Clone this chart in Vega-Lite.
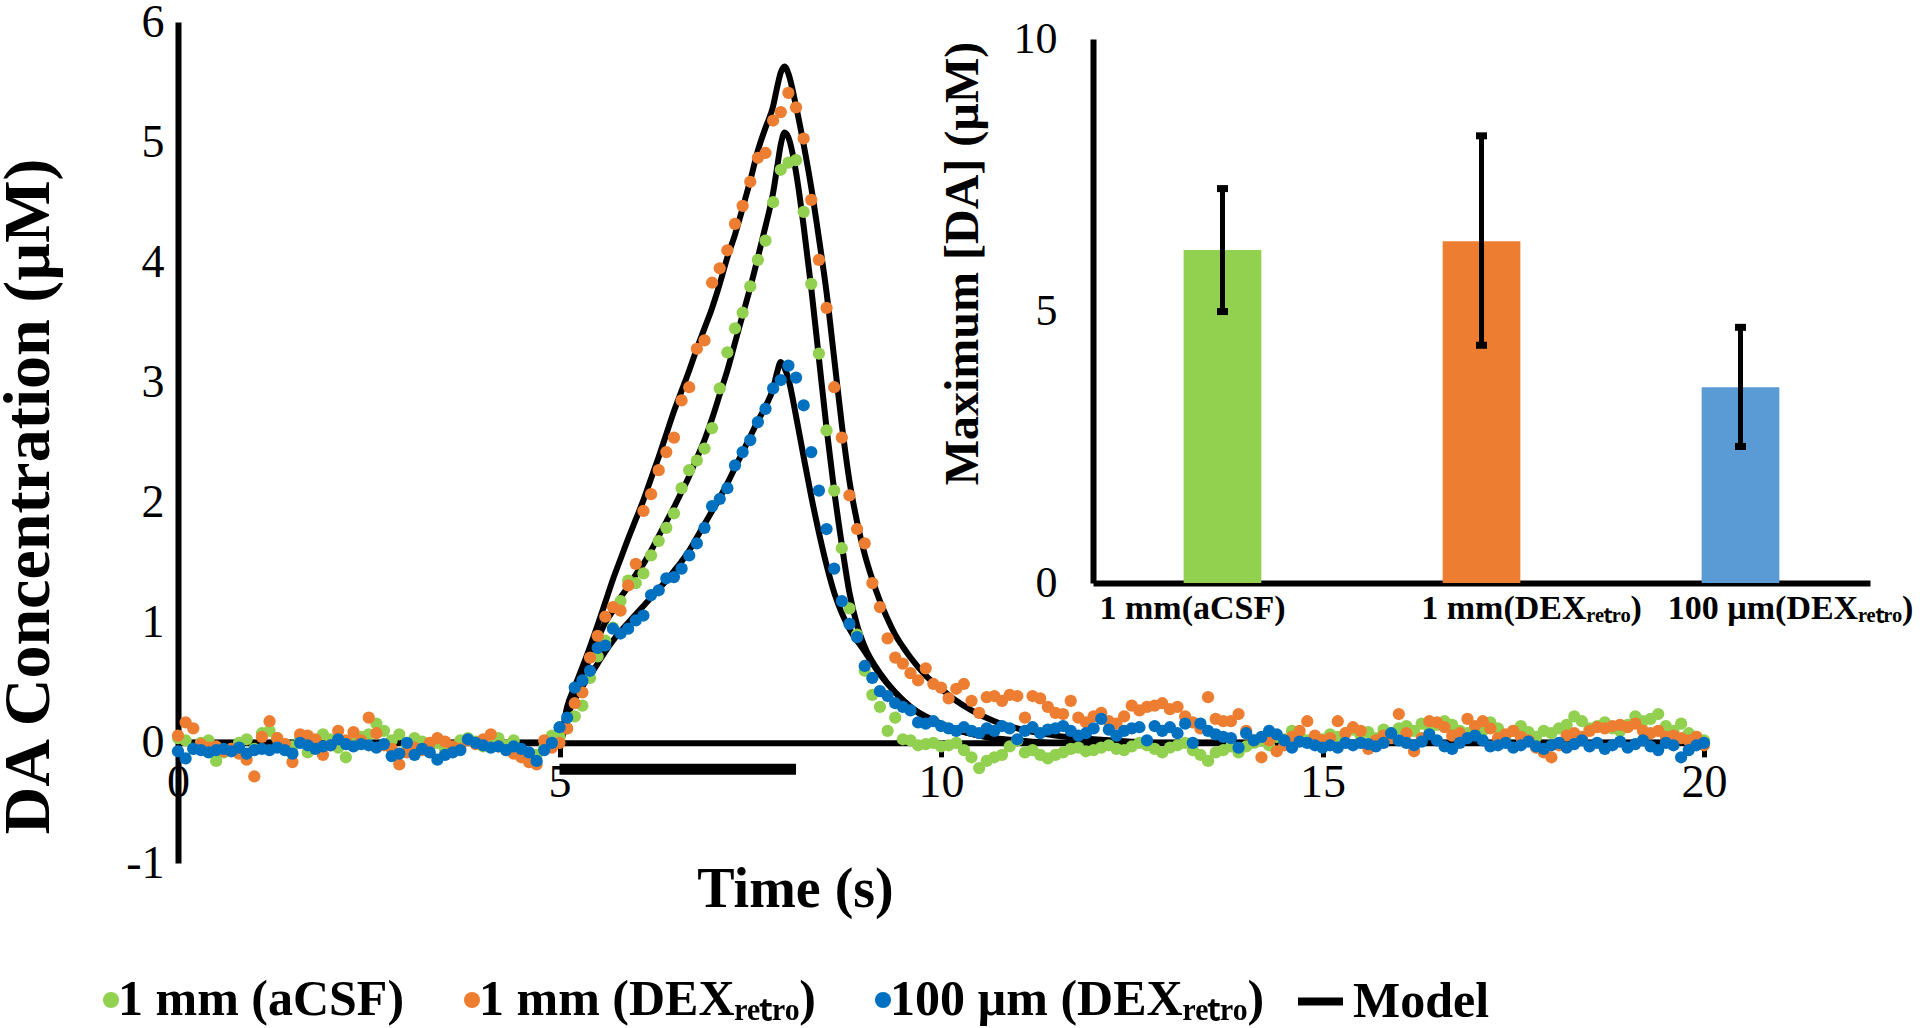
{
"$schema": "https://vega.github.io/schema/vega-lite/v6.json",
"width": 1526, "height": 841,
"autosize": {"type": "none"},
"padding": {"left": 178, "top": 22, "right": 216, "bottom": 165},
"background": "white",
"config": {
  "view": {"stroke": null},
  "axis": {"grid": false, "labelFont": "Liberation Serif", "titleFont": "Liberation Serif", "labelColor": "black", "titleColor": "black", "domainColor": "black", "tickColor": "black"},
  "legend": {"labelFont": "Liberation Serif", "labelColor": "black"}
},
"datasets": {
  "names": [
    {"key": "s1", "name": "1 mm (aCSF)"},
    {"key": "s2", "name": "1 mm (DEXᵣₑₜᵣₒ)"},
    {"key": "s3", "name": "100 µm (DEXᵣₑₜᵣₒ)"}
  ],
  "stim": [{"t0": 5, "t1": 8.1, "v": -0.22}],
  "bars": [
    {"cat": "1 mm(aCSF)", "v": 6.12, "lo": 4.99, "hi": 7.25},
    {"cat": "1 mm(DEXᵣₑₜᵣₒ)", "v": 6.28, "lo": 4.37, "hi": 8.22},
    {"cat": "100 µm(DEXᵣₑₜᵣₒ)", "v": 3.6, "lo": 2.51, "hi": 4.7}
  ],
  "model": [
    {"m":"o","t":0,"v":0},{"m":"o","t":5,"v":0},{"m":"o","t":5.1,"v":0.3},{"m":"o","t":5.2,"v":0.47},{"m":"o","t":5.3,"v":0.63},{"m":"o","t":5.4,"v":0.8},{"m":"o","t":5.5,"v":0.98},{"m":"o","t":5.6,"v":1.17},{"m":"o","t":5.7,"v":1.36},{"m":"o","t":5.8,"v":1.53},{"m":"o","t":5.9,"v":1.7},{"m":"o","t":6.0,"v":1.86},{"m":"o","t":6.1,"v":2.02},{"m":"o","t":6.2,"v":2.2},{"m":"o","t":6.3,"v":2.38},{"m":"o","t":6.4,"v":2.57},{"m":"o","t":6.5,"v":2.76},{"m":"o","t":6.6,"v":2.93},{"m":"o","t":6.7,"v":3.1},{"m":"o","t":6.8,"v":3.28},{"m":"o","t":6.9,"v":3.45},{"m":"o","t":7.0,"v":3.62},{"m":"o","t":7.1,"v":3.82},{"m":"o","t":7.2,"v":4.04},{"m":"o","t":7.3,"v":4.23},{"m":"o","t":7.4,"v":4.45},{"m":"o","t":7.5,"v":4.68},{"m":"o","t":7.6,"v":4.93},{"m":"o","t":7.7,"v":5.12},{"m":"o","t":7.8,"v":5.3},{"m":"o","t":7.85,"v":5.45},{"m":"o","t":7.9,"v":5.58},{"m":"o","t":7.95,"v":5.63},{"m":"o","t":8.0,"v":5.57},{"m":"o","t":8.1,"v":5.3},{"m":"o","t":8.2,"v":4.98},{"m":"o","t":8.3,"v":4.62},{"m":"o","t":8.4,"v":4.2},{"m":"o","t":8.5,"v":3.75},{"m":"o","t":8.6,"v":3.2},{"m":"o","t":8.7,"v":2.65},{"m":"o","t":8.8,"v":2.18},{"m":"o","t":8.9,"v":1.84},{"m":"o","t":9.0,"v":1.57},{"m":"o","t":9.1,"v":1.36},{"m":"o","t":9.2,"v":1.18},{"m":"o","t":9.3,"v":1.03},{"m":"o","t":9.4,"v":0.9},{"m":"o","t":9.5,"v":0.8},{"m":"o","t":9.6,"v":0.71},{"m":"o","t":9.8,"v":0.56},{"m":"o","t":10.0,"v":0.45},{"m":"o","t":10.2,"v":0.35},{"m":"o","t":10.4,"v":0.27},{"m":"o","t":10.7,"v":0.18},{"m":"o","t":11.0,"v":0.12},{"m":"o","t":11.5,"v":0.06},{"m":"o","t":12.0,"v":0.03},{"m":"o","t":12.5,"v":0.01},{"m":"o","t":13.0,"v":0},{"m":"o","t":20,"v":0},
    {"m":"g","t":0,"v":0},{"m":"g","t":5,"v":0},{"m":"g","t":5.1,"v":0.22},{"m":"g","t":5.2,"v":0.4},{"m":"g","t":5.3,"v":0.56},{"m":"g","t":5.4,"v":0.71},{"m":"g","t":5.5,"v":0.86},{"m":"g","t":5.6,"v":1.0},{"m":"g","t":5.7,"v":1.1},{"m":"g","t":5.8,"v":1.21},{"m":"g","t":5.9,"v":1.3},{"m":"g","t":6.0,"v":1.4},{"m":"g","t":6.1,"v":1.49},{"m":"g","t":6.2,"v":1.6},{"m":"g","t":6.3,"v":1.72},{"m":"g","t":6.4,"v":1.84},{"m":"g","t":6.5,"v":1.96},{"m":"g","t":6.6,"v":2.09},{"m":"g","t":6.7,"v":2.22},{"m":"g","t":6.8,"v":2.37},{"m":"g","t":6.9,"v":2.52},{"m":"g","t":7.0,"v":2.7},{"m":"g","t":7.1,"v":2.9},{"m":"g","t":7.2,"v":3.1},{"m":"g","t":7.3,"v":3.33},{"m":"g","t":7.4,"v":3.56},{"m":"g","t":7.5,"v":3.79},{"m":"g","t":7.6,"v":4.04},{"m":"g","t":7.7,"v":4.3},{"m":"g","t":7.8,"v":4.58},{"m":"g","t":7.85,"v":4.78},{"m":"g","t":7.9,"v":4.98},{"m":"g","t":7.95,"v":5.08},{"m":"g","t":8.0,"v":5.04},{"m":"g","t":8.1,"v":4.75},{"m":"g","t":8.2,"v":4.3},{"m":"g","t":8.3,"v":3.78},{"m":"g","t":8.4,"v":3.2},{"m":"g","t":8.5,"v":2.62},{"m":"g","t":8.6,"v":2.1},{"m":"g","t":8.7,"v":1.65},{"m":"g","t":8.8,"v":1.25},{"m":"g","t":8.9,"v":0.98},{"m":"g","t":9.0,"v":0.8},{"m":"g","t":9.2,"v":0.58},{"m":"g","t":9.4,"v":0.42},{"m":"g","t":9.6,"v":0.3},{"m":"g","t":9.8,"v":0.21},{"m":"g","t":10.0,"v":0.15},{"m":"g","t":10.3,"v":0.09},{"m":"g","t":10.6,"v":0.05},{"m":"g","t":11.0,"v":0.02},{"m":"g","t":11.5,"v":0},{"m":"g","t":20,"v":0},
    {"m":"b","t":0,"v":0},{"m":"b","t":5,"v":0},{"m":"b","t":5.1,"v":0.22},{"m":"b","t":5.2,"v":0.36},{"m":"b","t":5.3,"v":0.47},{"m":"b","t":5.4,"v":0.56},{"m":"b","t":5.5,"v":0.66},{"m":"b","t":5.6,"v":0.76},{"m":"b","t":5.7,"v":0.85},{"m":"b","t":5.8,"v":0.93},{"m":"b","t":5.9,"v":1.0},{"m":"b","t":6.0,"v":1.07},{"m":"b","t":6.1,"v":1.14},{"m":"b","t":6.2,"v":1.21},{"m":"b","t":6.3,"v":1.28},{"m":"b","t":6.4,"v":1.35},{"m":"b","t":6.5,"v":1.43},{"m":"b","t":6.6,"v":1.51},{"m":"b","t":6.7,"v":1.6},{"m":"b","t":6.8,"v":1.71},{"m":"b","t":6.9,"v":1.82},{"m":"b","t":7.0,"v":1.93},{"m":"b","t":7.1,"v":2.04},{"m":"b","t":7.2,"v":2.16},{"m":"b","t":7.3,"v":2.29},{"m":"b","t":7.4,"v":2.42},{"m":"b","t":7.5,"v":2.55},{"m":"b","t":7.6,"v":2.68},{"m":"b","t":7.7,"v":2.8},{"m":"b","t":7.8,"v":2.95},{"m":"b","t":7.85,"v":3.08},{"m":"b","t":7.9,"v":3.17},{"m":"b","t":7.95,"v":3.12},{"m":"b","t":8.0,"v":3.03},{"m":"b","t":8.1,"v":2.72},{"m":"b","t":8.2,"v":2.38},{"m":"b","t":8.3,"v":2.05},{"m":"b","t":8.4,"v":1.75},{"m":"b","t":8.5,"v":1.48},{"m":"b","t":8.6,"v":1.25},{"m":"b","t":8.7,"v":1.08},{"m":"b","t":8.8,"v":0.95},{"m":"b","t":9.0,"v":0.76},{"m":"b","t":9.2,"v":0.57},{"m":"b","t":9.4,"v":0.42},{"m":"b","t":9.6,"v":0.3},{"m":"b","t":9.8,"v":0.22},{"m":"b","t":10.0,"v":0.16},{"m":"b","t":10.5,"v":0.06},{"m":"b","t":10.9,"v":0.02},{"m":"b","t":11.5,"v":0},{"m":"b","t":20,"v":0}
  ],
  "series": [
    {"t":0.0,"s1":0.04,"s2":0.06,"s3":-0.07},{"t":0.1,"s1":0.02,"s2":0.17,"s3":-0.13},{"t":0.2,"s1":-0.05,"s2":0.12,"s3":-0.05},{"t":0.3,"s1":0.0,"s2":-0.01,"s3":-0.06},{"t":0.4,"s1":0.02,"s2":-0.04,"s3":-0.08},{"t":0.5,"s1":-0.15,"s2":-0.03,"s3":-0.06},{"t":0.6,"s1":-0.08,"s2":-0.07,"s3":-0.05},{"t":0.7,"s1":-0.05,"s2":-0.05,"s3":-0.07},{"t":0.8,"s1":0.0,"s2":-0.09,"s3":-0.04},{"t":0.9,"s1":0.03,"s2":-0.14,"s3":-0.09},
    {"t":1.0,"s1":-0.05,"s2":-0.28,"s3":-0.06},{"t":1.1,"s1":0.08,"s2":0.05,"s3":-0.05},{"t":1.2,"s1":0.1,"s2":0.18,"s3":-0.06},{"t":1.3,"s1":0.04,"s2":0.04,"s3":-0.04},{"t":1.4,"s1":-0.01,"s2":-0.01,"s3":-0.06},{"t":1.5,"s1":-0.03,"s2":-0.16,"s3":-0.09},{"t":1.6,"s1":0.03,"s2":0.07,"s3":0.0},{"t":1.7,"s1":-0.08,"s2":0.06,"s3":-0.02},{"t":1.8,"s1":-0.02,"s2":0.03,"s3":-0.05},{"t":1.9,"s1":0.07,"s2":-0.1,"s3":-0.03},
    {"t":2.0,"s1":0.03,"s2":-0.02,"s3":-0.02},{"t":2.1,"s1":-0.04,"s2":0.1,"s3":0.03},{"t":2.2,"s1":-0.12,"s2":0.02,"s3":-0.01},{"t":2.3,"s1":0.0,"s2":0.09,"s3":-0.03},{"t":2.4,"s1":0.05,"s2":0.02,"s3":-0.01},{"t":2.5,"s1":0.07,"s2":0.21,"s3":-0.02},{"t":2.6,"s1":0.16,"s2":0.08,"s3":-0.04},{"t":2.7,"s1":0.1,"s2":-0.02,"s3":-0.01},{"t":2.8,"s1":0.02,"s2":-0.05,"s3":-0.11},{"t":2.9,"s1":0.07,"s2":-0.18,"s3":-0.09},
    {"t":3.0,"s1":-0.02,"s2":-0.08,"s3":0.0},{"t":3.1,"s1":0.04,"s2":-0.04,"s3":-0.1},{"t":3.2,"s1":0.01,"s2":-0.06,"s3":-0.05},{"t":3.3,"s1":-0.03,"s2":0.0,"s3":-0.08},{"t":3.4,"s1":0.0,"s2":0.04,"s3":-0.14},{"t":3.5,"s1":-0.06,"s2":0.01,"s3":-0.1},{"t":3.6,"s1":-0.04,"s2":-0.03,"s3":-0.08},{"t":3.7,"s1":0.02,"s2":-0.05,"s3":-0.06},{"t":3.8,"s1":0.04,"s2":0.02,"s3":0.03},{"t":3.9,"s1":0.01,"s2":-0.01,"s3":0.0},
    {"t":4.0,"s1":-0.03,"s2":0.03,"s3":-0.02},{"t":4.1,"s1":0.0,"s2":0.07,"s3":-0.04},{"t":4.2,"s1":0.04,"s2":-0.03,"s3":-0.03},{"t":4.3,"s1":-0.02,"s2":-0.06,"s3":-0.06},{"t":4.4,"s1":0.02,"s2":-0.09,"s3":-0.03},{"t":4.5,"s1":-0.08,"s2":-0.12,"s3":-0.05},{"t":4.6,"s1":-0.15,"s2":-0.16,"s3":-0.08},{"t":4.7,"s1":-0.1,"s2":-0.18,"s3":-0.15},{"t":4.8,"s1":-0.04,"s2":0.02,"s3":-0.06},{"t":4.9,"s1":0.06,"s2":-0.04,"s3":0.0},
    {"t":5.0,"s1":0.05,"s2":0.0,"s3":0.13},{"t":5.1,"s1":0.12,"s2":0.12,"s3":0.21},{"t":5.2,"s1":0.22,"s2":0.33,"s3":0.46},{"t":5.3,"s1":0.31,"s2":0.42,"s3":0.52},{"t":5.4,"s1":0.54,"s2":0.71,"s3":0.6},{"t":5.5,"s1":0.72,"s2":0.89,"s3":0.79},{"t":5.6,"s1":0.85,"s2":1.05,"s3":0.81},{"t":5.7,"s1":0.96,"s2":1.13,"s3":0.95},{"t":5.8,"s1":1.18,"s2":1.1,"s3":0.91},{"t":5.9,"s1":1.35,"s2":1.31,"s3":0.95},
    {"t":6.0,"s1":1.33,"s2":1.49,"s3":1.02},{"t":6.1,"s1":1.41,"s2":1.93,"s3":1.06},{"t":6.2,"s1":1.56,"s2":2.07,"s3":1.23},{"t":6.3,"s1":1.68,"s2":2.27,"s3":1.27},{"t":6.4,"s1":1.79,"s2":2.42,"s3":1.37},{"t":6.5,"s1":1.91,"s2":2.54,"s3":1.38},{"t":6.6,"s1":2.12,"s2":2.85,"s3":1.45},{"t":6.7,"s1":2.27,"s2":2.96,"s3":1.56},{"t":6.8,"s1":2.35,"s2":3.28,"s3":1.66},{"t":6.9,"s1":2.45,"s2":3.35,"s3":1.79},
    {"t":7.0,"s1":2.62,"s2":3.83,"s3":1.97},{"t":7.1,"s1":2.95,"s2":3.95,"s3":2.03},{"t":7.2,"s1":3.25,"s2":4.1,"s3":2.12},{"t":7.3,"s1":3.45,"s2":4.32,"s3":2.31},{"t":7.4,"s1":3.58,"s2":4.47,"s3":2.42},{"t":7.5,"s1":3.8,"s2":4.67,"s3":2.52},{"t":7.6,"s1":4.02,"s2":4.87,"s3":2.67},{"t":7.7,"s1":4.18,"s2":4.91,"s3":2.78},{"t":7.8,"s1":4.5,"s2":5.18,"s3":2.95},{"t":7.9,"s1":4.77,"s2":5.25,"s3":3.02},
    {"t":8.0,"s1":4.83,"s2":5.41,"s3":3.14},{"t":8.1,"s1":4.85,"s2":5.29,"s3":3.04},{"t":8.2,"s1":4.42,"s2":5.03,"s3":2.81},{"t":8.3,"s1":3.82,"s2":4.52,"s3":2.42},{"t":8.4,"s1":3.24,"s2":4.02,"s3":2.1},{"t":8.5,"s1":2.6,"s2":3.62,"s3":1.78},{"t":8.6,"s1":2.1,"s2":2.96,"s3":1.45},{"t":8.7,"s1":1.62,"s2":2.54,"s3":1.18},{"t":8.8,"s1":1.12,"s2":2.06,"s3":0.99},{"t":8.9,"s1":0.9,"s2":1.78,"s3":0.88},
    {"t":9.0,"s1":0.6,"s2":1.66,"s3":0.64},{"t":9.1,"s1":0.4,"s2":1.33,"s3":0.54},{"t":9.2,"s1":0.3,"s2":1.13,"s3":0.43},{"t":9.3,"s1":0.1,"s2":0.87,"s3":0.39},{"t":9.4,"s1":0.21,"s2":0.71,"s3":0.33},{"t":9.5,"s1":0.03,"s2":0.66,"s3":0.3},{"t":9.6,"s1":0.02,"s2":0.58,"s3":0.27},{"t":9.7,"s1":-0.02,"s2":0.52,"s3":0.17},{"t":9.8,"s1":-0.01,"s2":0.62,"s3":0.16},{"t":9.9,"s1":0.0,"s2":0.49,"s3":0.18},
    {"t":10.0,"s1":-0.03,"s2":0.46,"s3":0.14},{"t":10.1,"s1":-0.02,"s2":0.37,"s3":0.12},{"t":10.2,"s1":0.0,"s2":0.45,"s3":0.1},{"t":10.3,"s1":-0.06,"s2":0.49,"s3":0.13},{"t":10.4,"s1":-0.12,"s2":0.35,"s3":0.1},{"t":10.5,"s1":-0.21,"s2":0.25,"s3":0.08},{"t":10.6,"s1":-0.15,"s2":0.38,"s3":0.12},{"t":10.7,"s1":-0.12,"s2":0.39,"s3":0.1},{"t":10.8,"s1":-0.1,"s2":0.35,"s3":0.14},{"t":10.9,"s1":-0.03,"s2":0.4,"s3":0.12},
    {"t":11.0,"s1":0.02,"s2":0.39,"s3":0.03},{"t":11.1,"s1":-0.08,"s2":0.21,"s3":0.1},{"t":11.2,"s1":-0.06,"s2":0.39,"s3":0.13},{"t":11.3,"s1":-0.1,"s2":0.37,"s3":0.08},{"t":11.4,"s1":-0.13,"s2":0.3,"s3":0.11},{"t":11.5,"s1":-0.1,"s2":0.25,"s3":0.12},{"t":11.6,"s1":-0.08,"s2":0.24,"s3":0.14},{"t":11.7,"s1":-0.05,"s2":0.35,"s3":0.1},{"t":11.8,"s1":-0.04,"s2":0.21,"s3":0.06},{"t":11.9,"s1":-0.07,"s2":0.17,"s3":0.08},
    {"t":12.0,"s1":-0.06,"s2":0.22,"s3":0.12},{"t":12.1,"s1":-0.04,"s2":0.25,"s3":0.2},{"t":12.2,"s1":-0.02,"s2":0.18,"s3":0.11},{"t":12.3,"s1":-0.05,"s2":0.16,"s3":0.06},{"t":12.4,"s1":-0.06,"s2":0.22,"s3":0.1},{"t":12.5,"s1":-0.03,"s2":0.31,"s3":0.12},{"t":12.6,"s1":0.0,"s2":0.27,"s3":0.13},{"t":12.7,"s1":-0.02,"s2":0.3,"s3":0.02},{"t":12.8,"s1":-0.05,"s2":0.31,"s3":0.14},{"t":12.9,"s1":-0.08,"s2":0.33,"s3":0.1},
    {"t":13.0,"s1":-0.04,"s2":0.28,"s3":0.13},{"t":13.1,"s1":-0.02,"s2":0.3,"s3":0.08},{"t":13.2,"s1":0.0,"s2":0.22,"s3":0.16},{"t":13.3,"s1":-0.06,"s2":0.17,"s3":0.0},{"t":13.4,"s1":-0.1,"s2":0.12,"s3":0.16},{"t":13.5,"s1":-0.15,"s2":0.38,"s3":0.1},{"t":13.6,"s1":-0.08,"s2":0.2,"s3":0.07},{"t":13.7,"s1":-0.06,"s2":0.18,"s3":0.05},{"t":13.8,"s1":-0.03,"s2":0.18,"s3":0.04},{"t":13.9,"s1":-0.08,"s2":0.24,"s3":-0.04},
    {"t":14.0,"s1":-0.03,"s2":0.1,"s3":0.08},{"t":14.1,"s1":0.0,"s2":0.02,"s3":0.02},{"t":14.2,"s1":0.02,"s2":-0.12,"s3":0.05},{"t":14.3,"s1":-0.02,"s2":0.02,"s3":0.1},{"t":14.4,"s1":0.05,"s2":-0.07,"s3":0.07},{"t":14.5,"s1":0.03,"s2":-0.02,"s3":0.02},{"t":14.6,"s1":0.1,"s2":0.05,"s3":-0.04},{"t":14.7,"s1":0.06,"s2":0.1,"s3":0.01},{"t":14.8,"s1":0.02,"s2":0.18,"s3":0.0},{"t":14.9,"s1":0.05,"s2":0.06,"s3":-0.02},
    {"t":15.0,"s1":0.03,"s2":0.02,"s3":-0.04},{"t":15.1,"s1":0.07,"s2":0.04,"s3":-0.02},{"t":15.2,"s1":0.05,"s2":0.18,"s3":-0.04},{"t":15.3,"s1":0.08,"s2":0.08,"s3":0.0},{"t":15.4,"s1":0.11,"s2":0.13,"s3":-0.02},{"t":15.5,"s1":0.06,"s2":0.1,"s3":0.0},{"t":15.6,"s1":0.09,"s2":-0.05,"s3":-0.01},{"t":15.7,"s1":0.04,"s2":0.02,"s3":-0.03},{"t":15.8,"s1":0.11,"s2":0.06,"s3":0.0},{"t":15.9,"s1":0.08,"s2":0.04,"s3":0.08},
    {"t":16.0,"s1":0.12,"s2":0.24,"s3":0.02},{"t":16.1,"s1":0.14,"s2":0.08,"s3":0.0},{"t":16.2,"s1":0.1,"s2":-0.07,"s3":-0.02},{"t":16.3,"s1":0.16,"s2":0.04,"s3":0.01},{"t":16.4,"s1":0.12,"s2":0.18,"s3":0.07},{"t":16.5,"s1":0.15,"s2":0.17,"s3":0.02},{"t":16.6,"s1":0.18,"s2":0.13,"s3":-0.03},{"t":16.7,"s1":0.15,"s2":0.06,"s3":-0.05},{"t":16.8,"s1":0.1,"s2":0.08,"s3":0.0},{"t":16.9,"s1":0.08,"s2":0.2,"s3":0.04},
    {"t":17.0,"s1":0.12,"s2":0.14,"s3":0.06},{"t":17.1,"s1":0.1,"s2":0.18,"s3":0.02},{"t":17.2,"s1":0.17,"s2":0.12,"s3":-0.03},{"t":17.3,"s1":0.12,"s2":0.04,"s3":-0.02},{"t":17.4,"s1":0.06,"s2":0.07,"s3":0.0},{"t":17.5,"s1":0.1,"s2":0.1,"s3":-0.04},{"t":17.6,"s1":0.14,"s2":0.05,"s3":-0.02},{"t":17.7,"s1":0.09,"s2":0.02,"s3":0.01},{"t":17.8,"s1":0.05,"s2":-0.04,"s3":-0.03},{"t":17.9,"s1":0.1,"s2":-0.08,"s3":-0.05},
    {"t":18.0,"s1":0.08,"s2":-0.12,"s3":-0.02},{"t":18.1,"s1":0.12,"s2":-0.02,"s3":0.0},{"t":18.2,"s1":0.15,"s2":0.06,"s3":-0.04},{"t":18.3,"s1":0.22,"s2":0.08,"s3":-0.01},{"t":18.4,"s1":0.18,"s2":0.05,"s3":0.02},{"t":18.5,"s1":0.12,"s2":0.1,"s3":-0.03},{"t":18.6,"s1":0.14,"s2":0.13,"s3":0.0},{"t":18.7,"s1":0.17,"s2":0.12,"s3":-0.05},{"t":18.8,"s1":0.12,"s2":0.14,"s3":-0.02},{"t":18.9,"s1":0.1,"s2":0.15,"s3":0.01},
    {"t":19.0,"s1":0.15,"s2":0.13,"s3":-0.04},{"t":19.1,"s1":0.22,"s2":0.16,"s3":-0.01},{"t":19.2,"s1":0.18,"s2":0.1,"s3":0.02},{"t":19.3,"s1":0.2,"s2":0.08,"s3":-0.03},{"t":19.4,"s1":0.24,"s2":0.1,"s3":-0.06},{"t":19.5,"s1":0.14,"s2":0.05,"s3":0.0},{"t":19.6,"s1":0.1,"s2":0.06,"s3":-0.02},{"t":19.7,"s1":0.16,"s2":0.04,"s3":-0.12},{"t":19.8,"s1":0.08,"s2":0.02,"s3":-0.06},{"t":19.9,"s1":0.05,"s2":0.05,"s3":-0.02},
    {"t":20.0,"s1":0.02,"s2":-0.02,"s3":0.0}
  ]
},
"layer": [
  {
    "layer": [
      {
        "data": {"name": "model"},
        "mark": {"type": "line", "strokeWidth": 6, "interpolate": "monotone"},
        "encoding": {
          "x": {"field": "t", "type": "quantitative",
                "scale": {"domain": [0, 20], "nice": false, "zero": false},
                "axis": {"orient": "bottom", "offset": -120.14, "values": [0, 5, 10, 15, 20], "format": "d", "domainWidth": 6, "ticks": true, "tickSize": 14, "tickWidth": 5, "labelPadding": 4, "labelFontSize": 46, "labelFlush": false, "labelOverlap": false, "title": "Time (s)", "titleFontSize": 56, "titleFontWeight": "bold", "titleX": 617, "titleY": 147, "titleAlign": "center", "titleBaseline": "middle", "zindex": 0}},
          "y": {"field": "v", "type": "quantitative",
                "scale": {"domain": [-1, 6], "nice": false, "zero": false},
                "axis": {"orient": "left", "values": [-1, 0, 1, 2, 3, 4, 5, 6], "format": "d", "domainWidth": 6, "ticks": false, "tickSize": 0, "labelPadding": 14, "labelFontSize": 46, "labelExpr": "datum.value < 0 ? '-' + format(-datum.value, 'd') : datum.label", "title": "DA Concentration (µM)", "titleFontSize": 66, "titleFontWeight": "bold", "titleX": -150, "titleY": 474, "titleAngle": 270, "titleAlign": "center", "titleBaseline": "middle", "zindex": 0}},
          "detail": {"field": "m", "type": "nominal"},
          "stroke": {"datum": "Model", "type": "nominal", "scale": {"domain": ["Model"], "range": ["black"]},
                     "legend": {"orient": "none", "legendX": 1116, "legendY": 953, "title": null, "direction": "horizontal", "padding": 0, "labelFontSize": 50, "labelFontWeight": "bold", "labelLimit": 0, "labelOffset": 6, "symbolType": "stroke", "symbolSize": 2025, "symbolStrokeWidth": 8, "symbolStrokeColor": "black"}}
        }
      },
      {
        "data": {"name": "stim"},
        "mark": {"type": "rule", "color": "black", "strokeWidth": 11},
        "encoding": {
          "x": {"field": "t0", "type": "quantitative"},
          "x2": {"field": "t1"},
          "y": {"field": "v", "type": "quantitative"}
        }
      },
      {
        "data": {"name": "series"},
        "transform": [
          {"fold": ["s1", "s2", "s3"], "as": ["key", "v"]},
          {"lookup": "key", "from": {"data": {"name": "names"}, "key": "key", "fields": ["name"]}}
        ],
        "mark": {"type": "circle", "size": 150, "opacity": 1},
        "encoding": {
          "x": {"field": "t", "type": "quantitative"},
          "y": {"field": "v", "type": "quantitative"},
          "order": {"field": "key", "type": "nominal"},
          "color": {"field": "name", "type": "nominal",
                    "scale": {"domain": ["1 mm (aCSF)", "1 mm (DEXᵣₑₜᵣₒ)", "100 µm (DEXᵣₑₜᵣₒ)"], "range": ["#92D050", "#ED7D31", "#0070C0"]},
                    "legend": {"orient": "none", "legendX": -92, "legendY": 953, "title": null, "direction": "horizontal", "padding": 0, "labelFontSize": 50, "labelFontWeight": "bold", "labelLimit": 0, "labelOffset": -18, "columnPadding": 42, "symbolType": "circle", "symbolSize": 260}}
        }
      }
    ]
  },
  {
    "data": {"name": "bars"},
    "layer": [
      {
        "mark": {"type": "bar"},
        "encoding": {
          "x": {"field": "cat", "type": "nominal", "sort": null,
                "scale": {"domain": ["1 mm(aCSF)", "1 mm(DEXᵣₑₜᵣₒ)", "100 µm(DEXᵣₑₜᵣₒ)"], "range": [915, 1692], "paddingInner": 0.7, "paddingOuter": 0.35},
                "axis": {"orient": "bottom", "offset": -280, "domainWidth": 6, "ticks": false, "tickSize": 0, "labelPadding": 8, "labelAngle": 0, "labelFontSize": 34, "labelFontWeight": "bold", "labelLimit": 0, "title": null, "zindex": 0,
                         "labelOffset": {"condition": {"test": "datum.label == '1 mm(aCSF)'", "value": -30}, "value": 50}}},
          "y": {"field": "v", "type": "quantitative",
                "scale": {"domain": [0, 10], "range": [561, 17], "nice": false},
                "axis": {"orient": "left", "offset": -915, "values": [0, 5, 10], "format": "d", "domainWidth": 6, "ticks": false, "tickSize": 0, "labelPadding": 36, "labelFontSize": 44, "title": "Maximum [DA] (µM)", "titleFontSize": 48, "titleFontWeight": "bold", "titleX": -130, "titleY": 241, "titleAngle": 270, "titleAlign": "center", "titleBaseline": "middle", "zindex": 0}},
          "color": {"field": "cat", "type": "nominal",
                    "scale": {"domain": ["1 mm(aCSF)", "1 mm(DEXᵣₑₜᵣₒ)", "100 µm(DEXᵣₑₜᵣₒ)"], "range": ["#92D050", "#ED7D31", "#5B9BD5"]},
                    "legend": null}
        }
      },
      {
        "mark": {"type": "rule", "color": "black", "strokeWidth": 5},
        "encoding": {
          "x": {"field": "cat", "type": "nominal", "sort": null},
          "y": {"field": "lo", "type": "quantitative"},
          "y2": {"field": "hi"}
        }
      },
      {
        "mark": {"type": "tick", "color": "black", "thickness": 7, "size": 11, "orient": "horizontal", "opacity": 1},
        "encoding": {
          "x": {"field": "cat", "type": "nominal", "sort": null},
          "y": {"field": "lo", "type": "quantitative"}
        }
      },
      {
        "mark": {"type": "tick", "color": "black", "thickness": 7, "size": 11, "orient": "horizontal", "opacity": 1},
        "encoding": {
          "x": {"field": "cat", "type": "nominal", "sort": null},
          "y": {"field": "hi", "type": "quantitative"}
        }
      }
    ]
  }
],
"resolve": {"scale": {"x": "independent", "y": "independent", "color": "independent"}}
}
